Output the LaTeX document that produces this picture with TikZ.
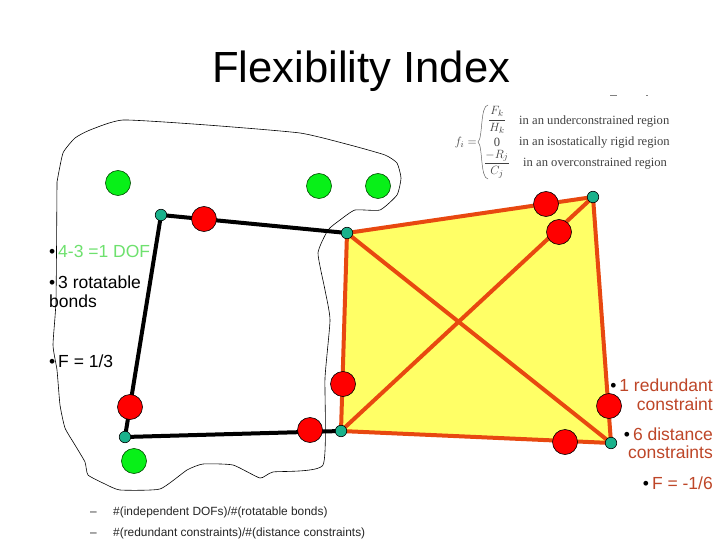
\documentclass[tikz,border=0pt]{standalone}
\usepackage{fontspec}
\setmainfont{Liberation Sans}
\newfontfamily\serifx{Liberation Serif}
\definecolor{brn}{RGB}{190,70,40}
\definecolor{edgeo}{RGB}{232,72,16}
\definecolor{tealx}{RGB}{26,178,140}
\definecolor{lgreen}{RGB}{110,225,110}
\definecolor{yel}{RGB}{255,255,102}
\definecolor{grnx}{RGB}{8,240,24}
\tikzset{
 redn/.style={circle,draw=black,fill=red,minimum size=25pt,inner sep=0,line width=.6pt},
 grn/.style={circle,draw=black!70!green,fill=grnx,minimum size=25pt,inner sep=0,line width=.6pt},
 joint/.style={circle,draw=black,fill=tealx,minimum size=11.5pt,inner sep=0,line width=.6pt},
 blk/.style={line width=4pt,black},
 org/.style={line width=4pt,edgeo},
 txt/.style={inner sep=0,font=\fontsize{17.5pt}{19pt}\selectfont,anchor=base west},
 rtxt/.style={inner sep=0,font=\fontsize{17.5pt}{19pt}\selectfont,anchor=base east,text=brn},
 small/.style={inner sep=0,font=\fontsize{11.9pt}{13pt}\selectfont,anchor=base west,text=black!85},
 frm/.style={inner sep=0,font=\serifx\fontsize{12.6pt}{14pt}\selectfont,text=black!75}
}
\begin{document}
\begin{tikzpicture}[x=1pt,y=-1pt]
\useasboundingbox (0,0) rectangle (720,540);
\fill[white] (0,0) rectangle (720,540);
\coordinate (ja) at (161,215);
\coordinate (jb) at (347,233);
\coordinate (jc) at (593,197);
\coordinate (jd) at (125,437);
\coordinate (je) at (341,431);
\coordinate (jf) at (611,443);
\fill[yel] (jb) -- (jc) -- (jf) -- (je) -- cycle;
% blob
\draw[line width=.6pt,black] plot[smooth,tension=.3] coordinates {
(57,182) (63,153) (75,138) (90,130) (123,120) (207,125) (300,133) (350,145) (385,155) (397,163) (401,178) (397,195) (380,210) (355,210) (340,220) (328,230) (318,253) (325,290) (330,320) (325,378) (323,465) (273,472) (260,478) (233,465) (203,464) (187,470) (160,489) (120,490) (105,484) (88,475) (85,462) (75,445) (65,428) (60,405) (57,370) (53,345) (56,300) (57,182)};
% edges
\draw[blk] (jb) -- (ja);
\draw[blk] (ja) -- (jd);
\draw[blk] (jd) -- (je);
\draw[org] (jb) -- (jc);
\draw[org] (jc) -- (jf);
\draw[org] (jf) -- (je);
\draw[org] (je) -- (jb);
\draw[org] (jb) -- (jf);
\draw[org] (je) -- (jc);
% red
\node[redn] (r1) at (204,219) {};
\node[redn] (r2) at (546,204) {};
\node[redn] (r3) at (559,232) {};
\node[redn] (r4) at (343,384) {};
\node[redn] (r5) at (130,407) {};
\node[redn] (r6) at (310,430) {};
\node[redn] (r7) at (609,406) {};
\node[redn] (r8) at (565,442) {};
% green
\node[grn] (g1) at (118,183) {};
\node[grn] (g2) at (319,186) {};
\node[grn] (g3) at (378,186) {};
\node[grn] (g4) at (134,461) {};
% joints
\node[joint] at (ja) {};
\node[joint] at (jb) {};
\node[joint] at (jc) {};
\node[joint] at (jd) {};
\node[joint] at (je) {};
\node[joint] at (jf) {};
% title
\node[inner sep=0,anchor=base west,font=\fontsize{43.6pt}{46pt}\selectfont] (title) at (212,83) {Flexibility Index};
% left text
\node[txt] (t1) at (49,258) {\textbullet\,\textcolor{lgreen}{4-3 =1 DOF}};
\node[txt] (t2) at (49,288) {\textbullet\,3 rotatable};
\node[txt] (t2b) at (49,307) {bonds};
\node[txt] (t3) at (49,367) {\textbullet\,F = 1/3};
% right text
\node[rtxt] (t4) at (713,391) {\textcolor{black}{\textbullet}\,1 redundant};
\node[rtxt] (t4b) at (713,410) {constraint};
\node[rtxt] (t5) at (713,440) {\textcolor{black}{\textbullet}\,6 distance};
\node[rtxt] (t5b) at (713,458) {constraints};
\node[rtxt] (t6) at (713,489) {\textcolor{black}{\textbullet}\,F = -1/6};
% small
\node[small] (d1) at (90,515) {–};
\node[small] (s1) at (113,515) {\#(independent DOFs)/\#(rotatable bonds)};
\node[small] (d2) at (90,536) {–};
\node[small] (s2) at (113,536) {\#(redundant constraints)/\#(distance constraints)};
% formula
\node[frm,anchor=east] (fl) at (477,143) {$f_i=$};
\draw[line width=.5pt,black!60] (488,105) .. controls (480,106) and (483,138) .. (478,142) .. controls (483,146) and (480,178) .. (488,179);
\node[frm] (f1) at (497,120) {$\displaystyle\frac{F_k}{H_k}$};
\node[frm] (f2) at (497,142) {0};
\node[frm] (f3) at (497,164) {$\displaystyle\frac{-R_j}{C_j}$};
\node[frm,anchor=west] (l1) at (519,121) {in an underconstrained region};
\node[frm,anchor=west] (l2) at (519,142) {in an isostatically rigid region};
\node[frm,anchor=west] (l3) at (523,163) {in an overconstrained region};
\draw[line width=.7pt,black!50] (610,95) -- (617,95);
\draw[line width=.7pt,black!50] (646,95) -- (648,95);
\end{tikzpicture}
\end{document}
